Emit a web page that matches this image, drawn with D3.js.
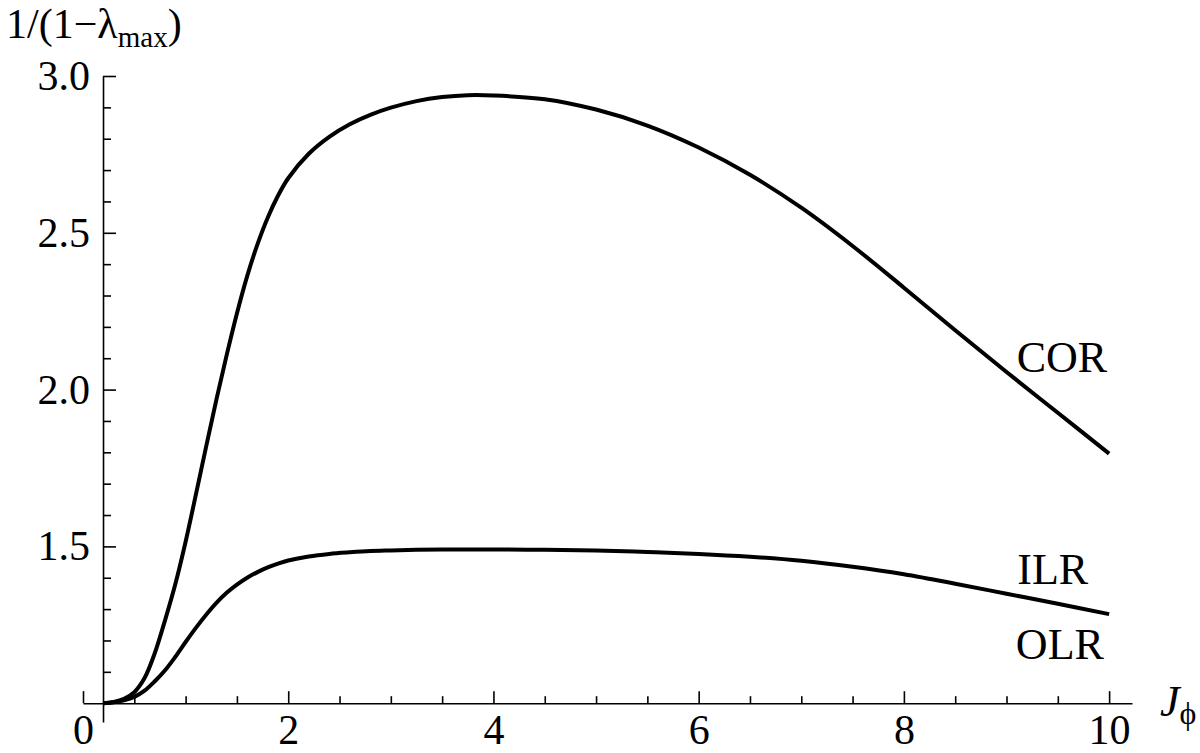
<!DOCTYPE html>
<html>
<head>
<meta charset="utf-8">
<script src="https://cdn.jsdelivr.net/npm/d3@7"></script>
<style>
  html, body { margin: 0; padding: 0; background: #fff; }
  svg { display: block; }
  text { font-family: "Liberation Serif", "DejaVu Serif", serif; fill: #000; }
</style>
</head>
<body>
<svg id="chart" width="1200" height="753"></svg>
<script>
// ---- data ----
const J = [0.195, 0.3, 0.4, 0.5, 0.6, 0.7, 0.8, 0.9, 1.0, 1.1, 1.2, 1.3, 1.4, 1.5, 1.6, 1.7, 1.8, 1.9, 2.0,
           2.2, 2.4, 2.6, 2.8, 3.0, 3.25, 3.5, 3.75, 4.0, 4.5, 5.0, 5.5, 6.0, 6.5, 7.0, 7.5, 8.0, 8.5, 9.0, 9.5, 10.0];
const COR = [1.0, 1.004, 1.014, 1.035, 1.08, 1.16, 1.265, 1.38, 1.515, 1.665, 1.818, 1.968, 2.11, 2.243, 2.362, 2.463, 2.548, 2.618, 2.674,
             2.752, 2.806, 2.846, 2.876, 2.899, 2.92, 2.933, 2.939, 2.938, 2.926, 2.893, 2.842, 2.772, 2.685, 2.58, 2.458, 2.325, 2.189, 2.056, 1.926, 1.796];
const ILR = [1.0, 1.003, 1.009, 1.02, 1.04, 1.07, 1.105, 1.148, 1.195, 1.24, 1.282, 1.32, 1.352, 1.378, 1.4, 1.418, 1.433, 1.445, 1.455,
             1.468, 1.476, 1.481, 1.485, 1.487, 1.489, 1.49, 1.49, 1.49, 1.489, 1.487, 1.482, 1.476, 1.467, 1.454, 1.435, 1.411, 1.381, 1.349, 1.317, 1.284];
const xMajorTicks = [0, 2, 4, 6, 8, 10];
const xTickLabels = ["0", "2", "4", "6", "8", "10"];
const xMinorTicks = [0.5, 1, 1.5, 2.5, 3, 3.5, 4.5, 5, 5.5, 6.5, 7, 7.5, 8.5, 9, 9.5];
const yMajorTicks = [1.5, 2.0, 2.5, 3.0];
const yTickLabels = ["1.5", "2.0", "2.5", "3.0"];
const yMinorTicks = [1.1, 1.2, 1.3, 1.4, 1.6, 1.7, 1.8, 1.9, 2.1, 2.2, 2.3, 2.4, 2.6, 2.7, 2.8, 2.9];
const seriesNames = ["COR", "ILR", "OLR"];

// ---- drawing ----
const svg = d3.select("#chart");
svg.append("rect").attr("width", 1200).attr("height", 753).attr("fill", "#fff");

const x = d3.scaleLinear().domain([0, 10.223]).range([83, 1132]);
const y = d3.scaleLinear().domain([0.94, 3.0]).range([722, 76]);
const xCross = J[0];   // vertical axis position
const yCross = 1.0;    // horizontal axis position

const tickFont = 42;

// X axis (major ticks + labels)
const gx = svg.append("g").attr("transform", `translate(0,${y(yCross)})`);
gx.call(d3.axisBottom(x).tickValues(xMajorTicks).tickFormat((d, i) => xTickLabels[i])
  .tickSize(-12).tickSizeOuter(0).tickPadding(11));
gx.selectAll("text").attr("font-size", tickFont).attr("font-family", "Liberation Serif, serif");
// minor ticks
svg.append("g").attr("transform", `translate(0,${y(yCross)})`)
  .call(d3.axisBottom(x).tickValues(xMinorTicks).tickFormat("").tickSize(-7).tickSizeOuter(0))
  .call(g => g.select(".domain").remove());

// Y axis
const gy = svg.append("g").attr("transform", `translate(${x(xCross)},0)`);
gy.call(d3.axisLeft(y).tickValues(yMajorTicks).tickFormat((d, i) => yTickLabels[i])
  .tickSize(-13).tickSizeOuter(0).tickPadding(13));
gy.selectAll("text").attr("font-size", tickFont).attr("font-family", "Liberation Serif, serif");
svg.append("g").attr("transform", `translate(${x(xCross)},0)`)
  .call(d3.axisLeft(y).tickValues(yMinorTicks).tickFormat("").tickSize(-8).tickSizeOuter(0))
  .call(g => g.select(".domain").remove());

svg.selectAll(".domain, .tick line").attr("stroke", "#000").attr("stroke-width", 1.6);

// Curves
const line = d3.line().x((d, i) => x(J[i])).y(d => y(d)).curve(d3.curveCatmullRom.alpha(0.5));
[COR, ILR].forEach(s => {
  svg.append("path").attr("d", line(s)).attr("fill", "none")
    .attr("stroke", "#000").attr("stroke-width", 4).attr("stroke-linejoin", "round")
    .attr("stroke-linecap", "butt");
});

// Series labels
const lab = [
  {t: seriesNames[0], j: 9.54, v: 2.056},
  {t: seriesNames[1], j: 9.45, v: 1.380},
  {t: seriesNames[2], j: 9.52, v: 1.140}
];
svg.selectAll("text.series").data(lab).join("text").attr("class", "series")
  .attr("x", d => x(d.j)).attr("y", d => y(d.v))
  .attr("text-anchor", "middle").attr("font-size", 44).text(d => d.t);

// Y-axis title
const yt = svg.append("text").attr("x", 6).attr("y", 38).attr("font-size", 42);
yt.append("tspan").text("1/(1\u2212\u03bb");
yt.append("tspan").attr("font-size", 29).attr("dy", 9).text("max");
yt.append("tspan").attr("dy", -9).text(")");

// X-axis title
const xt = svg.append("text").attr("x", 1160).attr("y", 716).attr("font-size", 44);
xt.append("tspan").attr("font-style", "italic").text("J");
xt.append("tspan").attr("font-size", 32).attr("dy", 8).text("\u03d5");
</script>
</body>
</html>
